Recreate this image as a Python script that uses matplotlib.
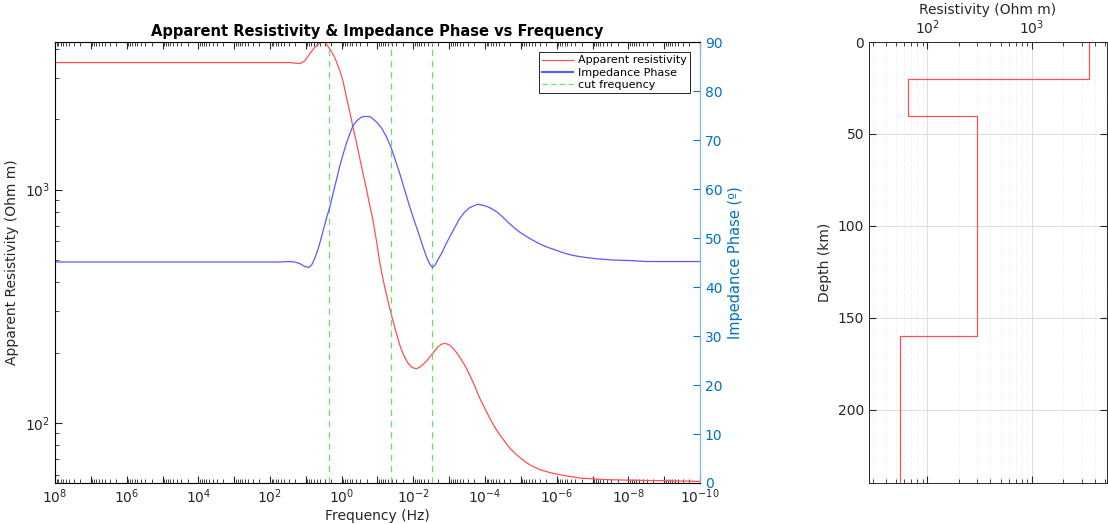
import numpy as np
import matplotlib

matplotlib.use("Agg")
from matplotlib import pyplot as plt
from matplotlib.ticker import FixedLocator, FuncFormatter, LogLocator, NullFormatter

# apparent resistivity curve: log10 frequency (Hz), Ohm m
rho_logf = [8.0, 1.451, 1.312, 1.172, 1.033, 0.893, 0.754, 0.642, 0.530, 0.447,
            0.335, 0.195, 0.056, -0.036, -0.131, -0.223, -0.315, -0.410, -0.502,
            -0.594, -0.689, -0.781, -0.874, -0.968, -1.061, -1.153, -1.248, -1.340,
            -1.387, -1.479, -1.619, -1.730, -1.850, -1.968, -2.085, -2.205, -2.364,
            -2.532, -2.680, -2.791, -2.894, -3.014, -3.154, -3.293, -3.433, -3.572,
            -3.712, -3.851, -3.991, -4.131, -4.270, -4.410, -4.549, -4.689, -4.828,
            -4.968, -5.107, -5.247, -5.526, -5.805, -6.084, -6.363, -6.643, -7.061,
            -7.480, -8.178, -8.875, -10.0]
rho_app = [3500, 3500, 3482, 3465, 3554, 3815, 4069, 4212, 4288, 4233,
           4017, 3686, 3243, 2924, 2492, 2165, 1854, 1594, 1368,
           1174, 1008, 860.7, 738.6, 606.4, 488.1, 412.8, 356.1, 310.1,
           290.4, 257.2, 216.0, 195.1, 180.3, 172.5, 170.5, 174.2, 183.4,
           197.7, 211.2, 217.5, 219.0, 215.4, 205.0, 191.3, 176.8, 160.7,
           143.7, 127.7, 115.7, 104.8, 95.9, 88.9, 83.2, 78.0, 74.2,
           71.1, 68.4, 66.1, 63.0, 61.2, 59.9, 58.9, 58.0, 57.4,
           57.0, 56.7, 56.5, 56.1]

# impedance phase curve: log10 frequency (Hz), degrees
phase_logf = [8.0, 1.730, 1.451, 1.312, 1.172, 1.033, 0.921, 0.837, 0.754, 0.670,
              0.586, 0.502, 0.419, 0.335, 0.243, 0.148, 0.056, -0.036, -0.131, -0.223,
              -0.299, -0.391, -0.502, -0.594, -0.706, -0.809, -0.968, -1.108, -1.248,
              -1.387, -1.479, -1.619, -1.758, -1.898, -2.037, -2.177, -2.269, -2.364,
              -2.448, -2.532, -2.610, -2.680, -2.791, -2.922, -3.042, -3.154, -3.293,
              -3.433, -3.572, -3.796, -3.991, -4.131, -4.318, -4.494, -4.633, -4.781,
              -4.968, -5.247, -5.526, -5.713, -5.945, -6.177, -6.420, -6.643, -7.061,
              -7.572, -8.038, -8.504, -9.155, -10.0]
phase = [45.1, 45.1, 45.2, 45.1, 44.8, 44.2, 44.0, 44.5, 45.8, 47.5,
         49.6, 51.9, 54.2, 56.2, 59.0, 61.8, 64.6, 67.0, 69.3, 71.2,
         72.6, 73.7, 74.4, 74.8, 74.8, 74.7, 73.7, 72.5, 70.7,
         68.3, 66.3, 63.2, 59.8, 56.4, 53.3, 50.3, 48.2, 46.2,
         44.8, 44.0, 44.5, 45.5, 46.9, 48.9, 50.6, 52.1, 54.0,
         55.3, 56.2, 56.9, 56.6, 56.2, 55.4, 54.3, 53.3, 52.3,
         51.2, 49.9, 48.8, 48.2, 47.6, 47.0, 46.5, 46.2, 45.8,
         45.5, 45.4, 45.2, 45.2, 45.2]

cut_freqs = [2.21, 0.041, 0.00295]

# layered model
layer_rho = [3500, 65, 300, 55]
layer_top = [0, 20, 40, 160]
model_bottom = 240

RED = "#ff5050"
BLUE = "#5a5aff"
GREEN = "#66e066"
MBLUE = "#0072BD"
INK = "#262626"

plt.rcParams["font.family"] = "DejaVu Sans"
fig = plt.figure(figsize=(11.08, 5.24), dpi=100)

ax = fig.add_axes([55 / 1108, 1 - 483 / 524, 645 / 1108, 441 / 524])
ax.loglog(10.0 ** np.array(rho_logf), rho_app, color=RED, lw=0.9)
for f in cut_freqs:
    ax.axvline(f, color=GREEN, lw=0.9, ls=(0, (5, 4)))

ax2 = ax.twinx()
ax2.semilogx(10.0 ** np.array(phase_logf), phase, color=BLUE, lw=0.9)
ax2.set_ylim(0, 90)
ax2.set_yticks(range(0, 91, 10))
ax2.tick_params(axis="y", direction="in", colors=MBLUE, labelsize=10, length=5)
ax2.spines["right"].set_color("#7fb6e0")
ax2.spines["right"].set_linewidth(0.9)
ax2.set_ylabel("Impedance Phase (º)", fontsize=10.5, color=MBLUE)

ax.set_xlim(1e8, 1e-10)
ax.set_ylim(55.2, 4288)

decades = [10.0 ** e for e in range(-10, 9)]
ax.xaxis.set_major_locator(FixedLocator(decades))
ax.xaxis.set_major_formatter(FuncFormatter(
    lambda v, _: f"$10^{{{int(round(np.log10(v)))}}}$" if int(round(np.log10(v))) % 2 == 0 else ""))
ax.xaxis.set_minor_locator(LogLocator(base=10, subs=np.arange(2, 10), numticks=100))
ax.xaxis.set_minor_formatter(NullFormatter())
ax.yaxis.set_minor_locator(LogLocator(base=10, subs=np.arange(2, 10), numticks=100))
ax.yaxis.set_minor_formatter(NullFormatter())
ax.tick_params(which="both", direction="in", top=True, right=False, labelsize=10,
               colors=INK)
ax.tick_params(which="major", length=5)
ax.tick_params(which="minor", length=3)
for s in ax.spines.values():
    s.set_color(INK)
    s.set_linewidth(0.7)
ax.set_xlabel("Frequency (Hz)", fontsize=10, color=INK, labelpad=2)
ax.set_ylabel("Apparent Resistivity (Ohm m)", fontsize=10, color=INK)
ax.set_title("Apparent Resistivity & Impedance Phase vs Frequency", fontsize=10.5,
             fontweight="bold", pad=4)

handles = [
    plt.Line2D([], [], color=RED, lw=0.9),
    plt.Line2D([], [], color=BLUE, lw=1.5),
    plt.Line2D([], [], color=GREEN, lw=0.9, ls=(0, (4, 3))),
]
leg = ax2.legend(handles, ["Apparent resistivity", "Impedance Phase", "cut frequency"],
                 loc="upper right", bbox_to_anchor=(0.9845, 0.977), borderaxespad=0,
                 fontsize=8, fancybox=False, framealpha=1, edgecolor=INK,
                 borderpad=0.3, labelspacing=0.2, handlelength=2.8, handletextpad=0.4)
leg.get_frame().set_linewidth(0.7)

# resistivity model panel
axm = fig.add_axes([869 / 1108, 1 - 483 / 524, 238 / 1108, 441 / 524])
step_x, step_y = [], []
bottoms = layer_top[1:] + [model_bottom]
for r, t, b in zip(layer_rho, layer_top, bottoms):
    step_x += [r, r]
    step_y += [t, b]
axm.semilogx(step_x, step_y, color=RED, lw=0.9)
axm.set_xlim(27.6, 5220)
axm.set_ylim(model_bottom, 0)
axm.set_yticks([0, 50, 100, 150, 200])
axm.xaxis.set_ticks_position("both")
axm.xaxis.set_label_position("top")
axm.tick_params(which="both", direction="in", labelbottom=False, labeltop=True,
                right=True, labelsize=10, colors=INK)
axm.tick_params(which="major", length=5)
axm.tick_params(which="minor", length=3)
axm.grid(True, which="major", color="#dcdcdc", lw=0.7)
axm.grid(True, which="minor", color="#e4e4e4", lw=0.6, ls=":")
for s in axm.spines.values():
    s.set_color(INK)
    s.set_linewidth(0.7)
axm.set_xlabel("Resistivity (Ohm m)", fontsize=10, color=INK, labelpad=3)
axm.set_ylabel("Depth (km)", fontsize=10, color=INK)

fig.savefig("out.png", dpi=100)
